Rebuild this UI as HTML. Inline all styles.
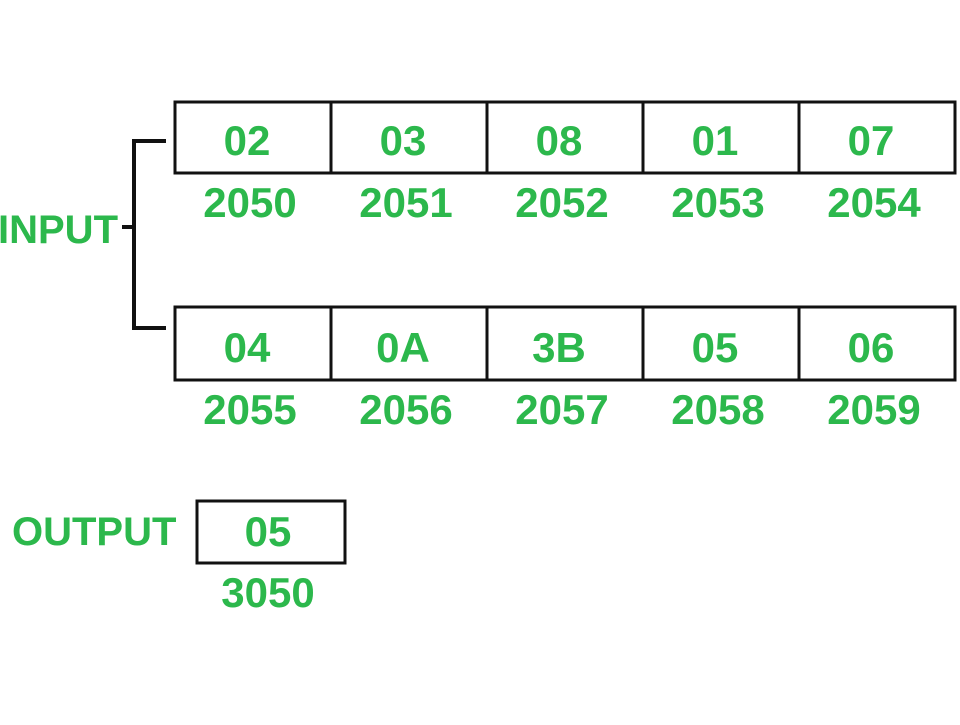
<!DOCTYPE html>
<html><head><meta charset="utf-8"><style>
body{margin:0;width:960px;height:720px;background:#fff;overflow:hidden}
svg text{font-family:"Liberation Sans",sans-serif;font-weight:bold;fill:#2cb84c}
</style></head><body>
<svg width="960" height="720">
<g id="g"></g>
</svg>
<script>
const topVals=["02","03","08","01","07"];
const topAddr=["2050","2051","2052","2053","2054"];
const botVals=["04","0A","3B","05","06"];
const botAddr=["2055","2056","2057","2058","2059"];
const outVal="05", outAddr="3050";
const g=document.getElementById('g');
const NS="http://www.w3.org/2000/svg";
function mk(t,a,txt){const e=document.createElementNS(NS,t);for(const k in a)e.setAttribute(k,a[k]);if(txt!==undefined)e.textContent=txt;g.appendChild(e);return e;}
function row(vals,addrs,y0,y1,vy,ay,prefix){
  const x0=175,w=156;
  vals.forEach((v,i)=>{
    const r=mk('rect',{x:x0+i*w,y:y0,width:w,height:y1-y0,fill:'none',stroke:'#111','stroke-width':3});
    
    
    const t=mk('text',{x:x0+i*w+w/2-6,y:vy,'text-anchor':'middle','font-size':42},v);
    
    
    const a=mk('text',{x:x0+i*w+w/2-3,y:ay,'text-anchor':'middle','font-size':42},addrs[i]);
    
    
  });
}
row(topVals,topAddr,102,173,155,217,'input-top');
row(botVals,botAddr,307,380,362,424,'input-bottom');
const br=mk('path',{d:'M166 141 H134 V328 H166 M122 227 H134',fill:'none',stroke:'#111','stroke-width':4});


const it=mk('text',{x:-2,y:243,'font-size':40},'INPUT');


const ot=mk('text',{x:12,y:545,'font-size':40},'OUTPUT');


const ob=mk('rect',{x:197,y:501,width:148,height:62,fill:'none',stroke:'#111','stroke-width':3});


const ov=mk('text',{x:268,y:546,'text-anchor':'middle','font-size':42},outVal);


const oa=mk('text',{x:268,y:607,'text-anchor':'middle','font-size':42},outAddr);


</script>
</body></html>
